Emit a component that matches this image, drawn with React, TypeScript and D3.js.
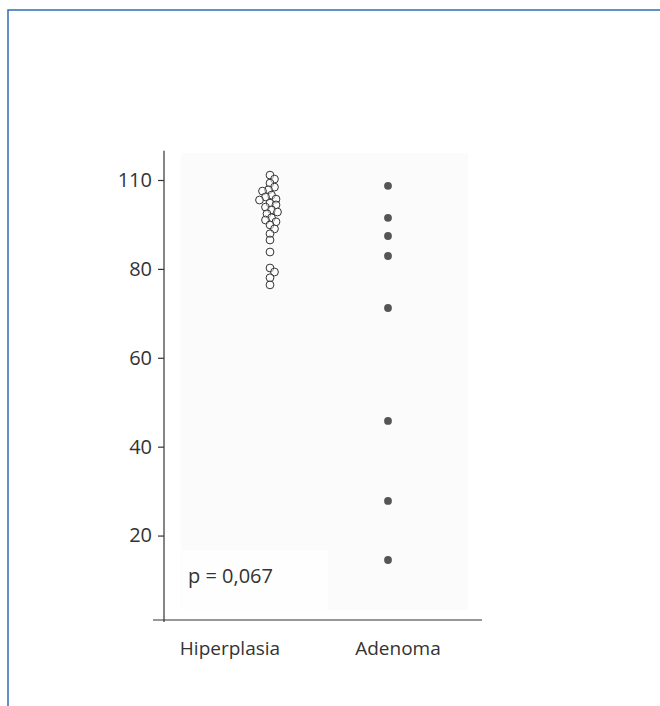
//@ts-nocheck
import React, { useRef, useEffect } from "react";
import * as d3 from "d3";

const groups = ["Hiperplasia", "Adenoma"];

const hiperplasia = [
  101.1, 100.2, 99.3, 98.4, 97.8, 97.5, 96.6, 96.2, 95.7, 95.5, 94.8, 94.4,
  93.9, 93.3, 92.8, 92.4, 91.5, 91.0, 90.6, 89.9, 89.0, 87.9, 86.5, 83.8, 80.2,
  79.3, 78.0, 76.4,
];

const adenoma = [98.7, 91.5, 87.4, 82.9, 71.2, 45.8, 27.8, 14.5];

const tickValues = [20, 40, 60, 80, 100];
const tickLabels = ["20", "40", "60", "80", "110"];

const pText = "p = 0,067";

const W = 660;
const H = 706;
const FONT = "'Open Sans', 'Noto Sans', sans-serif";

// simple dodge so overlapping circles spread sideways
function dodge(ys, minDist) {
  const placed = [];
  const order = ys.map((y, i) => i).sort((a, b) => ys[a] - ys[b]);
  const out = new Array(ys.length);
  for (const i of order) {
    const y = ys[i];
    let best = 0;
    for (let k = 0; k < 40; k++) {
      const dx = k === 0 ? 0 : Math.ceil(k / 2) * 1.5 * (k % 2 ? 1 : -1);
      const ok = placed.every(
        (p) => Math.hypot(p.x - dx, p.y - y) >= minDist
      );
      if (ok) {
        best = dx;
        break;
      }
    }
    placed.push({ x: best, y });
    out[i] = best;
  }
  return out;
}

export default function App() {
  const svgRef = useRef(null);

  useEffect(() => {
    const svg = d3.select(svgRef.current);
    svg.selectAll("*").remove();

    const y = d3.scaleLinear().domain([1, 100]).range([620, 180]);
    const x = d3.scalePoint().domain(groups).range([270, 388]);
    const xLabel = d3.scalePoint().domain(groups).range([230, 398]);

    // outer frame (top + left rule)
    svg
      .append("path")
      .attr("d", `M${8},${H} L${8},${10} L${W},${10}`)
      .attr("fill", "none")
      .attr("stroke", "#2f6db5")
      .attr("stroke-width", 1.5);

    // scanned plot background
    svg
      .append("rect")
      .attr("x", 181)
      .attr("y", 153)
      .attr("width", 287)
      .attr("height", 457)
      .attr("fill", "#fbfbfb");

    svg
      .append("rect")
      .attr("x", 182)
      .attr("y", 550)
      .attr("width", 146)
      .attr("height", 60)
      .attr("fill", "#fefefe");

    svg
      .append("text")
      .attr("x", 188)
      .attr("y", 583)
      .style("font-family", FONT)
      .style("font-size", "20px")
      .style("fill", "#333")
      .text(pText);

    // axes
    const axisX = 164;
    svg
      .append("line")
      .attr("x1", axisX)
      .attr("x2", axisX)
      .attr("y1", y(106.6))
      .attr("y2", 622)
      .attr("stroke", "#333")
      .attr("stroke-width", 1.2);

    svg
      .append("line")
      .attr("x1", 153)
      .attr("x2", 482)
      .attr("y1", 620)
      .attr("y2", 620)
      .attr("stroke", "#333")
      .attr("stroke-width", 1.2);

    const yAxis = svg
      .append("g")
      .attr("transform", `translate(${axisX},0)`)
      .call(
        d3
          .axisLeft(y)
          .tickValues(tickValues)
          .tickFormat((d, i) => tickLabels[i])
          .tickSize(6)
          .tickSizeOuter(0)
          .tickPadding(6)
      );
    yAxis.select(".domain").remove();
    yAxis.selectAll("line").attr("stroke", "#333").attr("stroke-width", 1.2);
    yAxis
      .selectAll("text")
      .style("font-family", FONT)
      .style("font-size", "20px")
      .style("fill", "#333");

    // category labels
    svg
      .selectAll(".cat")
      .data(groups)
      .enter()
      .append("text")
      .attr("x", (d) => xLabel(d))
      .attr("y", 655)
      .attr("text-anchor", "middle")
      .style("font-family", FONT)
      .style("font-size", "19px")
      .style("fill", "#333")
      .text((d) => d);

    // Hiperplasia: open circles
    const hy = hiperplasia.map((v) => y(v));
    const hdx = dodge(hy, 5.6);
    svg
      .selectAll(".hip")
      .data(hiperplasia)
      .enter()
      .append("circle")
      .attr("cx", (d, i) => x("Hiperplasia") + hdx[i])
      .attr("cy", (d) => y(d))
      .attr("r", 3.9)
      .attr("fill", "#fff")
      .attr("fill-opacity", 0.5)
      .attr("stroke", "#333")
      .attr("stroke-width", 1);

    // Adenoma: filled dots
    svg
      .selectAll(".ade")
      .data(adenoma)
      .enter()
      .append("circle")
      .attr("cx", x("Adenoma"))
      .attr("cy", (d) => y(d))
      .attr("r", 3.9)
      .attr("fill", "#555");
  }, []);

  return (
    <div style={{ position: "fixed", left: 0, top: 0, background: "#fff" }}>
      <svg ref={svgRef} width={W} height={H} style={{ display: "block" }} />
    </div>
  );
}
